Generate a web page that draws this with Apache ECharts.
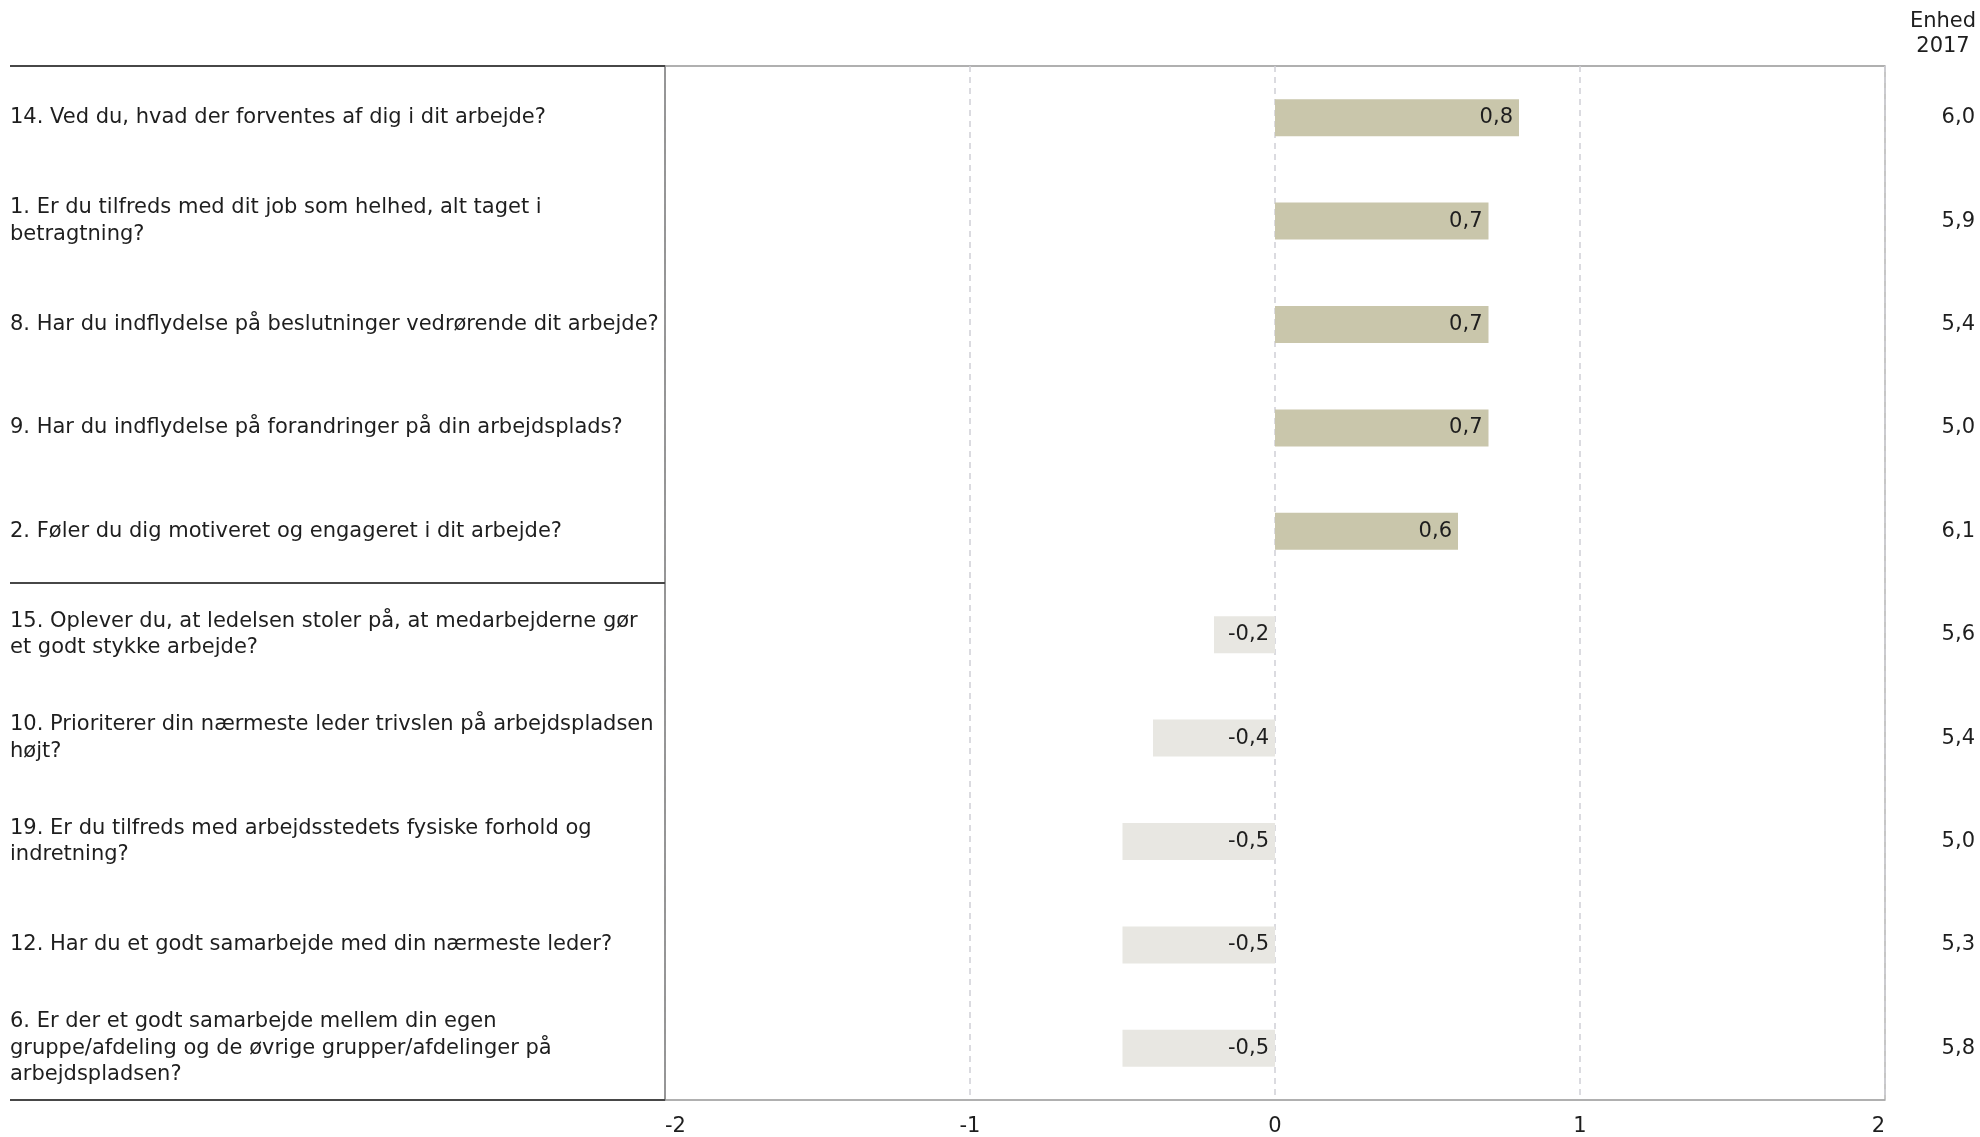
<!DOCTYPE html>
<html>
<head>
<meta charset="utf-8">
<title>Enhed 2017</title>
<script src="https://cdn.jsdelivr.net/npm/echarts@6/dist/echarts.min.js"></script>
<style>
  html, body { margin: 0; padding: 0; background: #fff; }
  #chart { width: 1980px; height: 1137px; }
</style>
</head>
<body>
<div id="chart"></div>
<script>
const questions = [
  '14. Ved du, hvad der forventes af dig i dit arbejde?',
  '1. Er du tilfreds med dit job som helhed, alt taget i\nbetragtning?',
  '8. Har du indflydelse på beslutninger vedrørende dit arbejde?',
  '9. Har du indflydelse på forandringer på din arbejdsplads?',
  '2. Føler du dig motiveret og engageret i dit arbejde?',
  '15. Oplever du, at ledelsen stoler på, at medarbejderne gør\net godt stykke arbejde?',
  '10. Prioriterer din nærmeste leder trivslen på arbejdspladsen\nhøjt?',
  '19. Er du tilfreds med arbejdsstedets fysiske forhold og\nindretning?',
  '12. Har du et godt samarbejde med din nærmeste leder?',
  '6. Er der et godt samarbejde mellem din egen\ngruppe/afdeling og de øvrige grupper/afdelinger på\narbejdspladsen?'
]
const difference = [0.8, 0.7, 0.7, 0.7, 0.6, -0.2, -0.4, -0.5, -0.5, -0.5]
const enhed2017 = [6.0, 5.9, 5.4, 5.0, 6.1, 5.6, 5.4, 5.0, 5.3, 5.8]
const xTicks = [-2, -1, 0, 1, 2]

const FONT = 'DejaVu Sans'
const TEXT = '#1e1e1e'
const comma = v => v.toFixed(1).replace('.', ',')

const chart = echarts.init(document.getElementById('chart'))

const option = {
  animation: false,
  textStyle: { fontFamily: FONT },
  grid: {
    left: 665,
    right: 95,
    top: 66,
    bottom: 36,
    show: true,
    borderColor: '#b4b4b4',
    borderWidth: 1.5
  },
  graphic: [
    {
      type: 'text',
      x: 1943,
      y: 9,
      style: {
        text: 'Enhed\n2017',
        font: '21px ' + FONT,
        fill: TEXT,
        align: 'center',
        lineHeight: 25
      }
    }
  ],
  xAxis: {
    type: 'value',
    min: xTicks[0],
    max: xTicks[xTicks.length - 1],
    interval: 1,
    axisLine: { show: false },
    axisTick: { show: false },
    axisLabel: {
      color: TEXT,
      fontSize: 21,
      margin: 16,
      alignMinLabel: 'left',
      alignMaxLabel: 'right',
      formatter: v => String(v)
    },
    splitLine: {
      show: true,
      lineStyle: { color: '#cfcfd6', type: [6, 5], width: 1.5 }
    }
  },
  yAxis: [
    {
      type: 'category',
      inverse: true,
      data: questions,
      axisLine: { show: true, onZero: false, lineStyle: { color: '#858585', width: 1.5 } },
      axisTick: {
        show: true,
        length: 655,
        interval: i => i === 0 || i === 5 || i === 10,
        lineStyle: { color: '#474747', width: 2 }
      },
      axisLabel: {
        color: TEXT,
        fontSize: 21,
        lineHeight: 26.5,
        align: 'left',
        margin: 655,
        padding: [9, 0, 0, 0]
      },
      splitLine: {
        show: true,
        interval: i => i === 5,
        lineStyle: { color: '#a8a8a8', width: 1.5 }
      }
    },
    {
      type: 'category',
      inverse: true,
      position: 'right',
      data: enhed2017.map(comma),
      axisLine: { show: false, onZero: false },
      axisTick: { show: false },
      axisLabel: {
        color: TEXT,
        fontSize: 21,
        align: 'right',
        margin: 90,
        padding: [9, 0, 0, 0]
      }
    }
  ],
  series: [
    {
      type: 'bar',
      yAxisIndex: 0,
      barWidth: 37,
      data: difference.map(v => ({
        value: v,
        itemStyle: { color: v >= 0 ? '#c9c6ab' : '#e8e7e2' }
      })),
      label: {
        show: true,
        position: 'insideRight',
        distance: 6,
        color: TEXT,
        fontSize: 21,
        fontFamily: FONT,
        padding: [4, 0, 0, 0],
        formatter: p => comma(p.value)
      }
    }
  ]
}

chart.setOption(option)

window.addEventListener('resize', () => {
  chart.resize()
})
</script>
</body>
</html>
